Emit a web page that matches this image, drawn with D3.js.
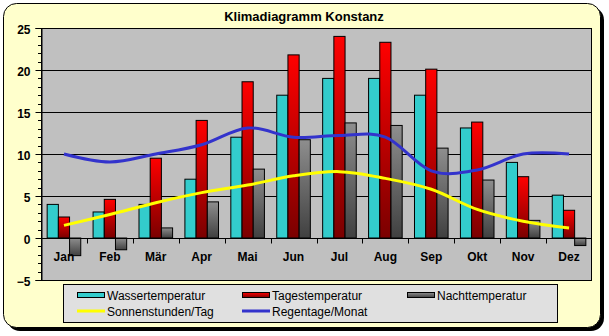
<!DOCTYPE html>
<html><head><meta charset="utf-8">
<script src="https://cdn.jsdelivr.net/npm/d3@7"></script>
<style>html,body{margin:0;padding:0;background:#fff;}svg{display:block;}</style>
</head><body>
<script>
const months = ["Jan","Feb","Mär","Apr","Mai","Jun","Jul","Aug","Sep","Okt","Nov","Dez"];
const wassertemperatur = [4, 3.1, 4, 7, 12, 17, 19, 19, 17, 13.1, 9, 5.1];
const tagestemperatur = [2.5, 4.6, 9.5, 14, 18.6, 21.8, 24, 23.3, 20.1, 13.8, 7.3, 3.3];
const nachttemperatur = [-2.1, -1.4, 1.2, 4.3, 8.2, 11.7, 13.7, 13.4, 10.7, 6.9, 2.1, -0.9];
const sonnenstunden = [1.5, 2.8, 4.2, 5.4, 6.3, 7.4, 7.9, 7.1, 5.8, 3.4, 2.0, 1.2];
const regentage = [10, 9.05, 10, 11.1, 13.1, 12, 12.2, 12, 8, 8.1, 10, 10];
const yTicks = [-5, 0, 5, 10, 15, 20, 25];
const title = "Klimadiagramm Konstanz";
const barSeries = ["Wassertemperatur", "Tagestemperatur", "Nachttemperatur"];
const lineSeries = ["Sonnenstunden/Tag", "Regentage/Monat"];

const W = 609, H = 336;
const svg = d3.select("body").append("svg").attr("width", W).attr("height", H);
const defs = svg.append("defs");
function grad(id, c1, c2) {
  const g = defs.append("linearGradient").attr("id", id).attr("x1", 0).attr("y1", 0).attr("x2", 0).attr("y2", 1);
  g.append("stop").attr("offset", "0%").attr("stop-color", c1);
  g.append("stop").attr("offset", "100%").attr("stop-color", c2);
}
grad("gRed", "#FF0000", "#7A0000");
grad("gGray", "#8E8E8E", "#404040");
const fills = ["#33CCCC", "url(#gRed)", "url(#gGray)"];

// chart area with shadow
svg.append("rect").attr("x", 7).attr("y", 7).attr("width", 597).attr("height", 324).attr("rx", 13).attr("fill", "#000");
svg.append("rect").attr("x", 3.5).attr("y", 3.5).attr("width", 597).attr("height", 324).attr("rx", 13)
  .attr("fill", "#FFFFCC").attr("stroke", "#000").attr("stroke-width", 1);

const L = 41, R = 592, T = 28, B = 280;
const x = d3.scaleBand().domain(months).range([L, R]).padding(0);
const xi = d3.scaleBand().domain(barSeries).range([0, x.bandwidth()]).paddingInner(0).paddingOuter(0.55);
const y = d3.scaleLinear().domain([-5, 25]).range([B, T]);

svg.append("rect").attr("x", L).attr("y", T).attr("width", R - L).attr("height", B - T).attr("fill", "#C0C0C0");

// gridlines
svg.append("g").selectAll("line").data(yTicks.filter(d => d > 0 && d < 25)).join("line")
  .attr("x1", L).attr("x2", R).attr("y1", d => Math.round(y(d)) + 0.5).attr("y2", d => Math.round(y(d)) + 0.5)
  .attr("stroke", "#000").attr("stroke-width", 1);

// bars
const sets = [wassertemperatur, tagestemperatur, nachttemperatur];
sets.forEach((vals, si) => {
  svg.append("g").selectAll("rect").data(vals).join("rect")
    .attr("x", (d, i) => x(months[i]) + xi(barSeries[si]))
    .attr("width", xi.bandwidth())
    .attr("y", d => y(Math.max(0, d)))
    .attr("height", d => Math.abs(y(d) - y(0)))
    .attr("fill", fills[si]).attr("stroke", "#000").attr("stroke-width", 1);
});

// plot border
svg.append("rect").attr("x", L + 0.5).attr("y", T + 0.5).attr("width", R - L - 1).attr("height", B - T)
  .attr("fill", "none").attr("stroke", "#000").attr("stroke-width", 1);

// x axis at 0
const y0 = Math.round(y(0)) + 0.5;
svg.append("line").attr("x1", L).attr("x2", R).attr("y1", y0).attr("y2", y0).attr("stroke", "#000");
svg.append("g").selectAll("line").data(months.slice(1)).join("line")
  .attr("x1", d => Math.round(x(d)) + 0.5).attr("x2", d => Math.round(x(d)) + 0.5)
  .attr("y1", y0).attr("y2", y0 + 5).attr("stroke", "#000");
svg.append("g").selectAll("text").data(months).join("text")
  .attr("x", d => x(d) + x.bandwidth() / 2).attr("y", y0 + 22)
  .attr("text-anchor", "middle").attr("font-family", "Liberation Sans, Arial, sans-serif")
  .attr("font-weight", "bold").attr("font-size", 12).text(d => d);

// y axis
const yax = d3.axisLeft(y).tickValues(yTicks).tickSize(6).tickFormat(d3.format("d"));
const gy = svg.append("g").attr("transform", `translate(${L + 0.5},0)`).call(yax);
gy.select(".domain").attr("stroke", "#000");
gy.selectAll("text").attr("font-family", "Liberation Sans, Arial, sans-serif").attr("font-weight", "bold")
  .attr("font-size", 12).attr("fill", "#000").attr("x", -11).attr("dy", "0.42em");
const minor = d3.range(-5, 26).filter(d => d % 5 !== 0);
svg.append("g").selectAll("line").data(minor).join("line")
  .attr("x1", L - 3).attr("x2", L).attr("y1", d => Math.round(y(d)) + 0.5).attr("y2", d => Math.round(y(d)) + 0.5)
  .attr("stroke", "#000");

// lines
const line = d3.line().x((d, i) => x(months[i]) + x.bandwidth() / 2).y(d => y(d)).curve(d3.curveCardinal.tension(0));
svg.append("path").datum(sonnenstunden).attr("d", line).attr("fill", "none").attr("stroke", "#FFFF00").attr("stroke-width", 3);
svg.append("path").datum(regentage).attr("d", line).attr("fill", "none").attr("stroke", "#3333CC").attr("stroke-width", 3);

// title
svg.append("text").attr("x", 304).attr("y", 21).attr("text-anchor", "middle")
  .attr("font-family", "Liberation Sans, Arial, sans-serif").attr("font-weight", "bold").attr("font-size", 13).text(title);

// legend
svg.append("rect").attr("x", 63.5).attr("y", 284.5).attr("width", 494).attr("height", 38)
  .attr("fill", "#E0E0E0").attr("stroke", "#000");
const legItems = [
  {name: barSeries[0], type: "bar", fill: fills[0], x: 77, y: 295},
  {name: barSeries[1], type: "bar", fill: fills[1], x: 242, y: 295},
  {name: barSeries[2], type: "bar", fill: fills[2], x: 407, y: 295},
  {name: lineSeries[0], type: "line", color: "#FFFF00", x: 77, y: 311},
  {name: lineSeries[1], type: "line", color: "#3333CC", x: 242, y: 311}
];
const lg = svg.append("g").selectAll("g").data(legItems).join("g");
lg.filter(d => d.type === "bar").append("rect").attr("x", d => d.x + 0.5).attr("y", d => d.y - 2.5)
  .attr("width", 27).attr("height", 5).attr("fill", d => d.fill).attr("stroke", "#000");
lg.filter(d => d.type === "line").append("line").attr("x1", d => d.x).attr("x2", d => d.x + 28)
  .attr("y1", d => d.y).attr("y2", d => d.y).attr("stroke", d => d.color).attr("stroke-width", 3);
lg.append("text").attr("x", d => d.x + 30).attr("y", d => d.y + 4.5)
  .attr("font-family", "Liberation Sans, Arial, sans-serif").attr("font-size", 12).text(d => d.name);
</script>
</body></html>
